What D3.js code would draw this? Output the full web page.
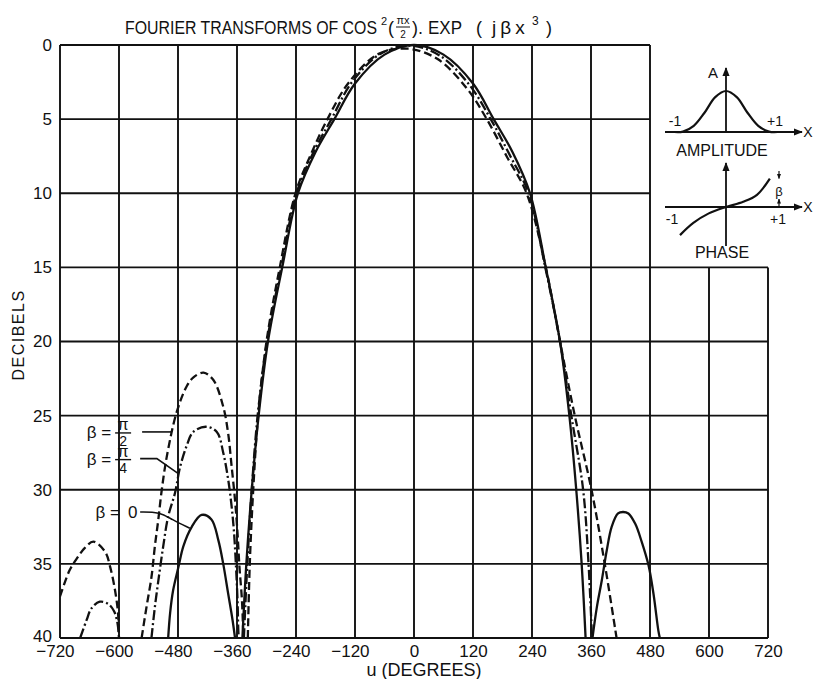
<!DOCTYPE html>
<html>
<head>
<meta charset="utf-8">
<script src="https://cdn.jsdelivr.net/npm/d3@7"></script>
<style>
  body { margin: 0; background: #fff; }
  svg { display: block; font-family: "Liberation Sans", Arial, sans-serif; }
</style>
</head>
<body>
<svg id="chart" width="815" height="679"></svg>
<script>
// axis ticks
var uTicks = [-720, -600, -480, -360, -240, -120, 0, 120, 240, 360, 480, 600, 720];
var dbTicks = [0, 5, 10, 15, 20, 25, 30, 35, 40];

// beta = 0 (solid) -- [u degrees, dB down]
var solidLeftLobe = [[-500,40],[-496,38.3],[-490,36.8],[-479,35.2],[-469,33.8],[-452,32.5],[-432,31.7],
  [-412,32.0],[-398,33.4],[-388,35.0],[-378,37.0],[-369,38.8],[-364,40]];
var solidMain = [[-349,40],[-341,35],[-330,30],[-316,25],[-297,20],[-268,15],[-236,10],[-200,7.2],
  [-162,5],[-120,2.6],[-60,0.65],[0,0],[60,0.65],[120,2.6],[162,5],[200,7.2],[236,10],[268,15],
  [297,20],[316,25],[330,30],[341,35],[349,40]];
var solidRightLobe = [[363,40],[372,37.9],[382,36.1],[392,34.1],[402,32.5],[415,31.6],[425,31.5],
  [436,31.6],[450,32.3],[463,33.5],[477,35.1],[487,37.0],[497,39.5],[500,40]];

// beta = pi/4 (dash-dot)
var dashDotFarLobe = [[-679,40],[-666,38.8],[-656,38.0],[-639,37.55],[-622,37.7],[-610,38.2],[-603,39.0],[-600,40]];
var dashDotLeftLobe = [[-534,40],[-527,37.9],[-519,35.9],[-510,33.8],[-500,31.8],[-486,30.2],[-476,28.5],
  [-462,27.0],[-449,26.1],[-423,25.75],[-401,26.1],[-388,27.5],[-378,29.3],[-371,31.1],[-366,32.9],
  [-362,35.2],[-359,37.4],[-357,39.7],[-356,40]];
var dashDotMain = [[-346,40],[-339,35],[-330,30],[-318,25],[-299,20],[-270,15],[-239,10],[-204,7.2],
  [-168,5],[-126,2.5],[-66,0.55],[-6,0.05],[54,0.75],[114,2.75],[156,5],[196,7.5],[233,10],[267,15],
  [297,20],[320,25],[344,30],[355,35],[362,40]];

// beta = pi/2 (dashed)
var dashFarLobe = [[-720,37.2],[-716,36.8],[-700,35.4],[-685,34.6],[-669,33.9],[-652,33.5],[-628,34.2],
  [-618,35.2],[-608,36.8],[-602,38.3],[-600,40]];
var dashLeftLobe = [[-554,40],[-544,37.9],[-534,35.9],[-527,33.8],[-520,32.0],[-513,30.0],[-503,27.8],
  [-483,24.8],[-462,23.0],[-448,22.4],[-428,22.1],[-408,22.6],[-388,24.4],[-378,26.2],[-371,28.4],
  [-364,30.7],[-359,32.9],[-355,35.2],[-350,37.4],[-347,39.7],[-346,40]];
var dashMain = [[-338,40],[-334,35],[-327,30],[-317,25],[-300,20],[-273,15],[-241,10],[-210,7.4],
  [-176,5],[-132,2.5],[-72,0.6],[-12,0.25],[48,0.95],[108,2.95],[148,5],[190,7.6],[229,10],[268,15],
  [297,20],[327,25],[361,30],[388,35],[412,40]];

var series = [
  { name: 'beta0', dash: null, segs: [solidLeftLobe, solidMain, solidRightLobe] },
  { name: 'beta4', dash: '10,3,2,3', segs: [dashDotFarLobe, dashDotLeftLobe, dashDotMain] },
  { name: 'beta2', dash: '8,4', segs: [dashFarLobe, dashLeftLobe, dashMain] }
];

// leader lines for the beta labels, [u, dB]
var leaderHalf = [[-553,26.1],[-493,26.1]];
var leaderQuarter = [[-557,27.9],[-523,27.9],[-480,28.9]];
var leaderZero = [[-557,31.5],[-517,31.5],[-493,32.0],[-456,32.6]];

// inset sketches
var ampPts = [[-1.2,0],[-1,0.01],[-0.75,0.15],[-0.5,0.47],[-0.25,0.85],[0,1],[0.25,0.85],[0.5,0.47],[0.75,0.15],[1,0.01],[1.2,0]];
var phasePts = [[-1.07,-0.97],[-0.76,-0.55],[-0.4,-0.22],[0,0],[0.4,0.18],[0.72,0.42],[1.02,0.98]];

var ink = '#111';
var font = '"Liberation Sans", Arial, sans-serif';
var svg = d3.select('#chart');

var x = d3.scaleLinear().domain([-720, 720]).range([60, 768]);
var y = d3.scaleLinear().domain([0, 40]).range([45, 638]);

var defs = svg.append('defs');
defs.append('clipPath').attr('id', 'plotclip').append('rect')
    .attr('x', x(-720)).attr('y', y(0) - 3).attr('width', x(720) - x(-720)).attr('height', y(40) - y(0) + 3);
defs.append('marker').attr('id', 'arr').attr('viewBox', '0 0 10 10').attr('refX', 9).attr('refY', 5)
    .attr('markerWidth', 9).attr('markerHeight', 9).attr('orient', 'auto-start-reverse')
    .attr('markerUnits', 'userSpaceOnUse')
  .append('path').attr('d', 'M0,1 L10,5 L0,9 Z').attr('fill', ink);
defs.append('marker').attr('id', 'arrs').attr('viewBox', '0 0 10 10').attr('refX', 9).attr('refY', 5)
    .attr('markerWidth', 5).attr('markerHeight', 5).attr('orient', 'auto-start-reverse')
    .attr('markerUnits', 'userSpaceOnUse')
  .append('path').attr('d', 'M0,1 L10,5 L0,9 Z').attr('fill', ink);

// grid -- the inset box (u > 480, dB < 15) is left empty
var grid = svg.append('g').attr('stroke', ink).attr('stroke-width', 1.9).attr('fill', 'none');
grid.selectAll('line.v').data(uTicks).enter().append('line')
    .attr('class', 'v')
    .attr('x1', function(d) { return x(d); })
    .attr('x2', function(d) { return x(d); })
    .attr('y1', function(d) { return d > 480 ? y(15) : y(0); })
    .attr('y2', y(40));
grid.selectAll('line.h').data(dbTicks).enter().append('line')
    .attr('class', 'h')
    .attr('x1', x(-720))
    .attr('x2', function(d) { return d < 15 ? x(480) : x(720); })
    .attr('y1', function(d) { return y(d); })
    .attr('y2', function(d) { return y(d); });

// axes (labels only)
var xAxis = d3.axisBottom(x).tickValues(uTicks).tickSize(0).tickPadding(7);
var gx = svg.append('g').attr('transform', 'translate(0,' + y(40) + ')').call(xAxis);
gx.select('.domain').remove();
gx.selectAll('text').attr('font-size', 17).attr('fill', ink).attr('font-family', font)
    .attr('dx', function(d) { return d < 0 ? '-0.3em' : 0; });

var yAxis = d3.axisLeft(y).tickValues(dbTicks).tickSize(0).tickPadding(8);
var gy = svg.append('g').attr('transform', 'translate(' + x(-720) + ',0)').call(yAxis);
gy.select('.domain').remove();
gy.selectAll('text').attr('font-size', 17).attr('fill', ink).attr('font-family', font)
    .attr('dy', function(d) { return d == 40 ? '0.2em' : '0.32em'; });

svg.append('text').attr('x', 424).attr('y', 676).attr('text-anchor', 'middle')
    .attr('font-size', 18).attr('fill', ink).text('u (DEGREES)');
svg.append('text').attr('transform', 'translate(24,335) rotate(-90)').attr('text-anchor', 'middle')
    .attr('font-size', 16).attr('letter-spacing', 1.5).attr('fill', ink).text('DECIBELS');

// curves
var line = d3.line()
    .x(function(d) { return x(d[0]); })
    .y(function(d) { return y(d[1]); })
    .curve(d3.curveCatmullRom.alpha(0.5));

var curves = svg.append('g').attr('clip-path', 'url(#plotclip)');
series.forEach(function(s) {
  curves.append('g').attr('class', s.name).selectAll('path').data(s.segs).enter().append('path')
      .attr('d', line)
      .attr('fill', 'none')
      .attr('stroke', ink)
      .attr('stroke-width', 2.3)
      .attr('stroke-dasharray', s.dash);
});

// beta labels with leaders
var leaderLine = d3.line()
    .x(function(d) { return x(d[0]); })
    .y(function(d) { return y(d[1]); });
[leaderHalf, leaderQuarter].forEach(function(pts) {
  svg.append('path').attr('d', leaderLine(pts)).attr('fill', 'none').attr('stroke', ink).attr('stroke-width', 1.6);
});
svg.append('path').attr('d', leaderLine.curve(d3.curveBasis)(leaderZero))
    .attr('fill', 'none').attr('stroke', ink).attr('stroke-width', 1.6);

function betaLabel(u, db, num, den) {
  var px = x(u), py = y(db);
  var t = svg.append('text').attr('font-size', 17).attr('fill', ink);
  t.append('tspan').attr('x', px - 2).attr('y', py + 6).attr('text-anchor', 'end').text('\u03b2 =');
  if (den) {
    t.append('tspan').attr('x', px + 10).attr('y', py - 2).attr('text-anchor', 'middle').attr('font-size', 16).text('\u03c0');
    t.append('tspan').attr('x', px + 10).attr('y', py + 14).attr('text-anchor', 'middle').attr('font-size', 14).text(den);
    svg.append('line').attr('x1', px + 2).attr('x2', px + 18).attr('y1', py + 1).attr('y2', py + 1)
        .attr('stroke', ink).attr('stroke-width', 1.4);
  } else {
    t.append('tspan').attr('x', px + 6).attr('y', py + 6).text(num);
  }
}
betaLabel(-612, leaderHalf[0][1], '\u03c0', '2');
betaLabel(-612, leaderQuarter[0][1], '\u03c0', '4');
betaLabel(-594, leaderZero[0][1], '0', null);

// title, one text element laid out piece by piece
var title = svg.append('text').attr('fill', ink).attr('font-size', 18);
title.append('tspan').attr('x', 125).attr('y', 34)
    .attr('textLength', 252).attr('lengthAdjust', 'spacingAndGlyphs').text('FOURIER TRANSFORMS OF COS');
title.append('tspan').attr('x', 381).attr('y', 25).attr('font-size', 11).text('2');
title.append('tspan').attr('x', 388).attr('y', 34).text('(');
title.append('tspan').attr('x', 403).attr('y', 24).attr('text-anchor', 'middle').attr('font-size', 11).text('\u03c0x');
title.append('tspan').attr('x', 403).attr('y', 38).attr('text-anchor', 'middle').attr('font-size', 10).text('2');
title.append('tspan').attr('x', 412).attr('y', 34).text(').');
title.append('tspan').attr('x', 428).attr('y', 34).attr('textLength', 34).attr('lengthAdjust', 'spacingAndGlyphs').text('EXP');
title.append('tspan').attr('x', 476).attr('y', 34).text('(');
title.append('tspan').attr('x', 492).attr('y', 34).attr('font-size', 19).attr('letter-spacing', 4).text('j\u03b2x');
title.append('tspan').attr('x', 532).attr('y', 25).attr('font-size', 12).text('3');
title.append('tspan').attr('x', 546).attr('y', 34).text(')');
svg.append('line').attr('x1', 396).attr('x2', 410).attr('y1', 27).attr('y2', 27).attr('stroke', ink).attr('stroke-width', 1);

// inset sketches
var ix = d3.scaleLinear().domain([-1, 1]).range([683, 769]);
var ampY = d3.scaleLinear().domain([0, 1]).range([132, 91]);
var phY = d3.scaleLinear().domain([-1, 1]).range([236, 178]);
var inset = svg.append('g').attr('stroke', ink).attr('fill', 'none').attr('stroke-width', 1.8);

inset.append('line').attr('x1', 665).attr('x2', 802).attr('y1', ampY(0)).attr('y2', ampY(0)).attr('marker-end', 'url(#arr)');
inset.append('line').attr('x1', ix(0)).attr('x2', ix(0)).attr('y1', ampY(0)).attr('y2', 68).attr('marker-end', 'url(#arr)');
inset.append('path').attr('stroke-width', 2.2).attr('d', d3.line()
    .x(function(d) { return ix(d[0]); }).y(function(d) { return ampY(d[1]); })
    .curve(d3.curveCatmullRom)(ampPts));

inset.append('line').attr('x1', 665).attr('x2', 802).attr('y1', phY(0)).attr('y2', phY(0)).attr('marker-end', 'url(#arr)');
inset.append('line').attr('x1', ix(0)).attr('x2', ix(0)).attr('y1', 246).attr('y2', 163).attr('marker-end', 'url(#arr)');
inset.append('path').attr('stroke-width', 2.2).attr('d', d3.line()
    .x(function(d) { return ix(d[0]); }).y(function(d) { return phY(d[1]); })
    .curve(d3.curveCatmullRom)(phasePts));
// beta height marker at x = +1
inset.append('line').attr('x1', 779).attr('x2', 779).attr('y1', 171).attr('y2', phY(0.98)).attr('stroke-width', 1.2).attr('marker-end', 'url(#arrs)');
inset.append('line').attr('x1', 779).attr('x2', 779).attr('y1', phY(0)).attr('y2', 199).attr('stroke-width', 1.2).attr('marker-end', 'url(#arrs)');

var it = svg.append('g').attr('fill', ink).attr('font-size', 14);
it.append('text').attr('x', 713).attr('y', 78).attr('text-anchor', 'middle').attr('font-size', 15).text('A');
it.append('text').attr('x', 675).attr('y', 126).attr('text-anchor', 'middle').text('-1');
it.append('text').attr('x', 775).attr('y', 126).attr('text-anchor', 'middle').text('+1');
it.append('text').attr('x', 808).attr('y', 137).attr('text-anchor', 'middle').text('X');
it.append('text').attr('x', 722).attr('y', 156).attr('text-anchor', 'middle').attr('font-size', 16).text('AMPLITUDE');
it.append('text').attr('x', 779).attr('y', 196).attr('text-anchor', 'middle').attr('font-size', 13).text('\u03b2');
it.append('text').attr('x', 672).attr('y', 224).attr('text-anchor', 'middle').text('-1');
it.append('text').attr('x', 778).attr('y', 224).attr('text-anchor', 'middle').text('+1');
it.append('text').attr('x', 808).attr('y', 212).attr('text-anchor', 'middle').text('X');
it.append('text').attr('x', 722).attr('y', 258).attr('text-anchor', 'middle').attr('font-size', 16).text('PHASE');
</script>
</body>
</html>
